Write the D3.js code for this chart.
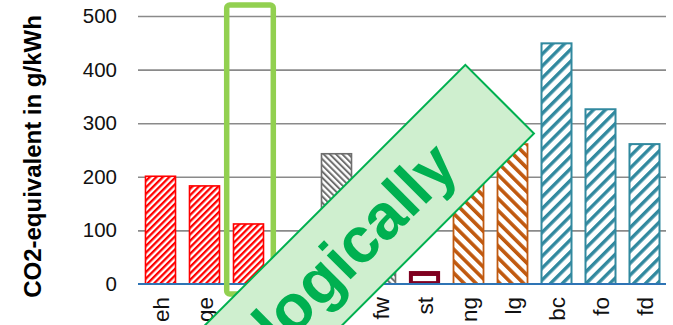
<!DOCTYPE html>
<html>
<head>
<meta charset="utf-8">
<script src="https://cdn.jsdelivr.net/npm/d3@7"></script>
<style>
  html, body { margin: 0; padding: 0; background: #ffffff; }
  svg { display: block; font-family: "Liberation Sans", Arial, sans-serif; }
</style>
</head>
<body>
<svg id="chart" width="673" height="325"></svg>
<script>
// Emission factors of heat supply options, CO2-equivalent in g/kWh
const categories = ["eh", "ge", "hp", "wc", "wp", "fw", "st", "ng", "lg", "bc", "fo", "fd"];
const emissions  = [201, 183, 112, 25, 243, 30, 23, 240, 261, 449, 326, 261];
const groups     = ["electric", "electric", "electric", "wood", "wood", "wood",
                    "solar", "gas", "gas", "fossil", "fossil", "fossil"];
const yTicks     = [0, 100, 200, 300, 400, 500];
const axisTitle  = "CO2-equivalent in g/kWh";
const highlighted = "hp";
const bannerText = "Ecologically";

// Fill and outline per energy group
const groupStyle = {
  electric: { color: "#ff0000", dir: 45,  gap: 4.6, line: 2.3, stroke: 1.6 },
  wood:     { color: "#6e6e6e", dir: -45, gap: 4.4, line: 2.0, stroke: 1.6 },
  solar:    { color: "#7f0020", dir: 0,   gap: 0,   line: 0,   stroke: 1.2 },
  gas:      { color: "#c0590f", dir: -45, gap: 8.4, line: 3.6, stroke: 1.8 },
  fossil:   { color: "#31899f", dir: 45,  gap: 8.4, line: 3.4, stroke: 2.0 }
};

const svg = d3.select("#chart");

const x = d3.scaleBand()
  .domain(categories)
  .range([138.5, 666.5])
  .paddingInner(0.318)
  .paddingOuter(0.159);

const y = d3.scaleLinear()
  .domain([0, 500])
  .range([284, 16]);

// Hatch patterns
const defs = svg.append("defs");
Object.entries(groupStyle).forEach(([key, s]) => {
  if (!s.gap) return;
  const p = defs.append("pattern")
    .attr("id", "hatch-" + key)
    .attr("patternUnits", "userSpaceOnUse")
    .attr("width", s.gap)
    .attr("height", s.gap)
    .attr("patternTransform", `rotate(${s.dir})`);
  p.append("rect").attr("width", s.gap).attr("height", s.gap).attr("fill", "#ffffff");
  p.append("rect").attr("x", 0).attr("width", s.line).attr("height", s.gap).attr("fill", s.color);
});

// Gridlines and y tick labels
const yAxis = d3.axisLeft(y)
  .tickValues(yTicks)
  .tickSize(-(666 - 138))
  .tickPadding(21)
  .tickFormat(d3.format("d"));

const gy = svg.append("g")
  .attr("transform", "translate(138,0)")
  .call(yAxis);
gy.select(".domain").remove();
gy.selectAll(".tick line")
  .attr("stroke", d => d === 0 ? "none" : "#8a8a8a")
  .attr("stroke-width", 1.6);
gy.selectAll(".tick text")
  .attr("fill", "#111")
  .attr("font-size", 20.5)
  .attr("font-family", "'Liberation Sans', Arial, sans-serif");

// Axis title
svg.append("text")
  .attr("transform", "translate(41,156.5) rotate(-90)")
  .attr("text-anchor", "middle")
  .attr("font-size", 24)
  .attr("font-weight", "bold")
  .attr("fill", "#000")
  .text(axisTitle);

// Bars
const data = categories.map((c, i) => ({ c, v: emissions[i], g: groups[i] }));
const bars = svg.append("g");
bars.selectAll("rect")
  .data(data)
  .join("rect")
  .attr("x", d => x(d.c))
  .attr("y", d => y(d.v))
  .attr("width", x.bandwidth())
  .attr("height", d => y(0) - y(d.v))
  .attr("fill", d => groupStyle[d.g].gap ? `url(#hatch-${d.g})` : groupStyle[d.g].color)
  .attr("stroke", d => groupStyle[d.g].color)
  .attr("stroke-width", d => groupStyle[d.g].stroke);

// Solid-filled bars carry a light slot in the middle
bars.selectAll("rect.slot")
  .data(data.filter(d => !groupStyle[d.g].gap))
  .join("rect")
  .attr("class", "slot")
  .attr("x", d => x(d.c) + 3.4)
  .attr("y", d => y(d.v) + 4.3)
  .attr("width", x.bandwidth() - 6.8)
  .attr("height", d => Math.max(0, y(0) - y(d.v) - 7.2))
  .attr("fill", "#ffffff");

// Baseline
svg.append("line")
  .attr("x1", 138).attr("x2", 666)
  .attr("y1", y(0)).attr("y2", y(0))
  .attr("stroke", "#2e74b5")
  .attr("stroke-width", 2);

// Category labels, rotated
svg.append("g").selectAll("text")
  .data(categories)
  .join("text")
  .attr("transform", d => `translate(${x(d) + x.bandwidth() / 2 + 0.5},297) rotate(-90)`)
  .attr("text-anchor", "end")
  .attr("dy", "0.35em")
  .attr("font-size", 22.5)
  .attr("fill", "#111")
  .text(d => d);

// Highlight frame around one option
const hx = x(highlighted);
svg.append("rect")
  .attr("x", hx - 6.8)
  .attr("y", 5)
  .attr("width", x.bandwidth() + 16.6)
  .attr("height", 289)
  .attr("rx", 3)
  .attr("fill", "none")
  .attr("stroke", "#92d050")
  .attr("stroke-width", 5.5);

// Diagonal banner
const banner = svg.append("g")
  .attr("transform", "translate(499.65,99.15) rotate(-45)");
banner.append("rect")
  .attr("x", -760)
  .attr("y", -48.5)
  .attr("width", 760)
  .attr("height", 97)
  .attr("fill", "#cfefcf")
  .attr("stroke", "#00b050")
  .attr("stroke-width", 2);
banner.append("text")
  .attr("x", -77)
  .attr("y", 22)
  .attr("text-anchor", "end")
  .attr("font-size", 64)
  .attr("font-weight", "bold")
  .attr("fill", "#00b050")
  .text(bannerText);
</script>
</body>
</html>
